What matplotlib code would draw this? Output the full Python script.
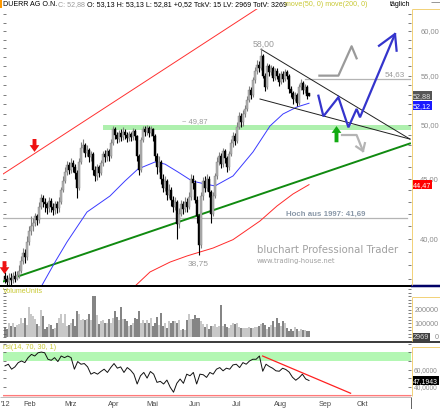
import numpy as np
import matplotlib
matplotlib.use("Agg")
import matplotlib.pyplot as plt
import matplotlib.transforms as mtrans
from matplotlib.ticker import FixedLocator, NullFormatter, NullLocator
from matplotlib.lines import Line2D
from matplotlib.patches import Rectangle

plt.rcParams['font.family'] = ['Liberation Sans', 'DejaVu Sans']

# ---------------- data ----------------
opens = [37.2, 37.0, 36.8, 37.1, 36.9, 37.2, 37.0, 37.3, 37.6, 38.3,
         38.9, 38.6, 39.8, 40.6, 41.0, 41.3, 41.8, 41.5, 42.6, 43.3,
         43.0, 42.8, 42.5, 43.1, 42.6, 42.3, 42.8, 42.5, 43.0, 44.0,
         44.8, 45.6, 46.2, 45.8, 46.4, 46.0, 45.5, 44.2, 46.5, 47.8,
         48.0, 47.3, 47.6, 46.9, 47.2, 45.8, 45.2, 46.0, 45.5, 46.4,
         47.2, 46.9, 47.5, 47.0, 48.2, 49.6, 49.0, 48.6, 49.2, 48.8,
         49.3, 49.0, 48.7, 49.1, 48.8, 49.4, 48.9, 47.0, 45.8, 48.5,
         49.6, 49.3, 49.7, 49.2, 49.6, 48.9, 47.0, 46.0, 46.5, 45.0,
         44.2, 44.8, 43.6, 44.0, 43.2, 42.6, 43.0, 41.2, 42.0, 42.8,
         42.4, 43.0, 42.6, 43.4, 45.0, 44.6, 43.2, 41.8, 39.5, 43.5,
         44.8, 44.2, 45.0, 43.8, 42.0, 43.5, 45.2, 46.5, 47.0, 46.3,
         47.5, 46.8, 46.0, 47.2, 48.2, 48.9, 48.4, 49.8, 50.8, 50.2,
         51.0, 51.5, 52.5, 53.5, 53.0, 54.5, 55.5, 56.2, 55.8, 57.2,
         55.0, 53.8, 56.0, 55.4, 55.8, 54.8, 55.5, 55.0, 54.3, 55.2,
         54.6, 55.4, 55.0, 53.6, 53.2, 52.6, 53.0, 52.1, 53.8, 54.2,
         53.5, 53.8, 53.13]
highs = [37.5, 37.3, 37.4, 37.4, 37.5, 37.6, 37.6, 38.0, 38.7, 39.3,
         39.2, 40.2, 41.0, 41.8, 41.7, 42.1, 42.0, 43.0, 43.7, 43.6,
         43.3, 43.0, 43.4, 43.3, 42.9, 43.1, 43.1, 43.4, 44.3, 45.2,
         46.0, 46.6, 46.5, 46.8, 46.7, 46.3, 45.8, 46.8, 48.3, 48.6,
         48.2, 48.0, 47.8, 47.5, 47.4, 46.1, 46.3, 46.2, 46.7, 47.5,
         47.6, 47.8, 47.7, 48.6, 49.9, 49.8, 49.3, 49.5, 49.6, 49.8,
         49.6, 49.3, 49.4, 49.3, 49.7, 49.6, 49.0, 47.2, 48.8, 49.9,
         49.9, 50.0, 49.9, 49.9, 49.7, 49.1, 47.3, 47.0, 46.7, 45.4,
         45.2, 45.0, 44.5, 44.3, 43.5, 43.4, 43.2, 42.5, 43.2, 43.1,
         43.4, 43.3, 43.8, 45.4, 45.3, 44.9, 43.5, 42.0, 43.8, 45.1,
         45.2, 45.4, 45.2, 44.0, 43.8, 45.5, 46.9, 47.4, 47.3, 47.8,
         47.7, 47.0, 47.5, 48.6, 49.3, 49.2, 50.2, 51.2, 51.1, 51.4,
         51.9, 52.9, 53.9, 53.8, 54.9, 55.9, 56.7, 56.6, 58.0, 57.4,
         55.3, 56.4, 56.3, 56.2, 56.0, 55.8, 55.8, 55.3, 55.5, 55.5,
         55.7, 55.6, 55.2, 53.9, 53.4, 53.3, 53.2, 54.1, 54.6, 54.4,
         54.1, 54.0, 53.13]
lows = [36.7, 36.5, 36.6, 36.6, 36.7, 36.8, 36.9, 37.1, 37.4, 38.1,
        38.2, 38.4, 39.5, 40.3, 40.6, 41.0, 41.1, 41.3, 42.4, 42.6,
        42.2, 42.0, 42.2, 42.2, 41.9, 42.0, 42.1, 42.2, 42.8, 43.8,
        44.6, 45.3, 45.4, 45.5, 45.6, 45.0, 43.3, 44.0, 46.3, 47.4,
        46.9, 47.0, 46.5, 46.6, 45.3, 44.8, 44.9, 45.1, 45.3, 46.1,
        46.5, 46.6, 46.6, 46.8, 48.0, 48.6, 48.2, 48.3, 48.4, 48.5,
        48.6, 48.3, 48.4, 48.4, 48.5, 48.5, 46.6, 45.3, 45.6, 48.3,
        48.9, 49.0, 48.8, 48.9, 48.4, 46.6, 45.4, 45.6, 44.5, 43.8,
        43.9, 43.2, 43.3, 42.7, 42.2, 42.3, 40.0, 40.9, 41.8, 42.0,
        42.2, 42.2, 42.4, 43.2, 44.1, 42.9, 41.3, 38.75, 39.3, 43.2,
        43.8, 43.9, 43.4, 41.3, 41.8, 43.3, 45.0, 46.2, 45.9, 46.0,
        46.4, 45.6, 45.8, 47.0, 47.9, 48.0, 48.2, 49.6, 49.8, 49.9,
        50.7, 51.3, 52.2, 52.6, 52.8, 54.2, 55.2, 55.4, 55.6, 54.7,
        53.4, 53.6, 55.0, 55.1, 54.4, 54.5, 54.6, 53.9, 54.1, 54.3,
        54.4, 54.6, 53.2, 52.8, 52.0, 52.3, 51.8, 51.9, 53.5, 53.1,
        53.2, 52.6, 52.81]
closes = [37.0, 36.8, 37.1, 36.9, 37.2, 37.0, 37.3, 37.6, 38.3, 38.9,
          38.6, 39.8, 40.6, 41.0, 41.3, 41.8, 41.5, 42.6, 43.3, 43.0,
          42.8, 42.5, 43.1, 42.6, 42.3, 42.8, 42.5, 43.0, 44.0, 44.8,
          45.6, 46.2, 45.8, 46.4, 46.0, 45.5, 44.2, 46.5, 47.8, 48.0,
          47.3, 47.6, 46.9, 47.2, 45.8, 45.2, 46.0, 45.5, 46.4, 47.2,
          46.9, 47.5, 47.0, 48.2, 49.6, 49.0, 48.6, 49.2, 48.8, 49.3,
          49.0, 48.7, 49.1, 48.8, 49.4, 48.9, 47.0, 45.8, 48.5, 49.6,
          49.3, 49.7, 49.2, 49.6, 48.9, 47.0, 46.0, 46.5, 45.0, 44.2,
          44.8, 43.6, 44.0, 43.2, 42.6, 43.0, 41.2, 42.0, 42.8, 42.4,
          43.0, 42.6, 43.4, 45.0, 44.6, 43.2, 41.8, 39.5, 43.5, 44.8,
          44.2, 45.0, 43.8, 42.0, 43.5, 45.2, 46.5, 47.0, 46.3, 47.5,
          46.8, 46.0, 47.2, 48.2, 48.9, 48.4, 49.8, 50.8, 50.2, 51.0,
          51.5, 52.5, 53.5, 53.0, 54.5, 55.5, 56.2, 55.8, 57.2, 55.0,
          53.8, 56.0, 55.4, 55.8, 54.8, 55.5, 55.0, 54.3, 55.2, 54.6,
          55.4, 55.0, 53.6, 53.2, 52.6, 53.0, 52.1, 53.8, 54.2, 53.5,
          53.8, 52.9, 52.88]
volume_thousands = [74, 62, 99, 82, 99, 74, 86, 94, 143, 106,
                    143, 89, 217, 168, 156, 131, 94, 77, 198, 156,
                    57, 74, 94, 86, 62, 69, 99, 143, 168, 106,
                    168, 82, 89, 99, 131, 82, 188, 168, 124, 133,
                    124, 131, 168, 124, 304, 304, 163, 94, 114, 124,
                    106, 106, 131, 99, 143, 188, 148, 124, 217, 133,
                    133, 119, 82, 86, 99, 136, 131, 188, 99, 124,
                    106, 128, 99, 143, 82, 99, 148, 89, 173, 82,
                    99, 69, 114, 99, 114, 119, 99, 124, 54, 57,
                    54, 124, 168, 131, 131, 163, 136, 143, 114, 94,
                    74, 94, 62, 82, 79, 94, 74, 82, 237, 82,
                    94, 74, 69, 89, 99, 94, 106, 74, 69, 64,
                    69, 69, 74, 69, 69, 74, 74, 82, 94, 99,
                    89, 62, 74, 89, 119, 74, 143, 99, 82, 114,
                    99, 64, 44, 57, 44, 74, 62, 44, 57, 49,
                    49, 44, 44]
rsi_values = [64.3, 66.2, 60.4, 63.1, 68.1, 70.0, 68.1, 73.9, 77.7, 75.8,
              79.6, 80.4, 79.6, 72.0, 70.8, 73.9, 69.3, 75.8, 73.9, 75.8,
              73.9, 60.4, 69.3, 66.2, 67.0, 63.1, 54.6, 56.6, 54.6, 57.7,
              60.4, 56.6, 62.3, 67.0, 61.6, 63.1, 56.6, 62.3, 59.3, 54.6,
              43.1, 52.7, 56.6, 50.0, 57.7, 54.6, 45.0, 46.2, 43.1, 47.7,
              39.3, 33.5, 43.9, 48.9, 43.9, 54.6, 52.7, 56.6, 43.1, 54.6,
              53.9, 50.8, 56.6, 54.6, 60.4, 62.3, 58.5, 61.6, 60.4, 65.4,
              66.2, 62.3, 68.1, 66.2, 70.0, 72.0, 72.0, 75.8, 58.0, 66.2,
              63.5, 61.5, 58.5, 58.0, 61.5, 60.0, 57.0, 51.0, 47.5, 50.5,
              54.6, 49.0, 47.1943]
ma50_day = [17.5, 25, 31, 41, 52.5, 60, 66.5, 75, 80, 86.5, 93.5, 100, 105, 114, 124, 132.5, 139, 146, 152]
ma50_val = [36.3, 38.24, 39.77, 42.16, 43.5, 44.79, 45.85, 46.48, 46.29, 45.58, 44.79, 44.53, 44.36, 45.23,
            47.4, 49.86, 51.04, 51.74, 52.12]
ma200_day = [63.5, 72.5, 82.5, 91, 97.5, 104, 114, 127.5, 136, 144, 152]
ma200_val = [36.29, 37.51, 38.24, 38.70, 39.0, 39.3, 39.95, 41.43, 42.66, 43.67, 44.47]

month_labels = ["'12", "Feb", "Mrz", "Apr", "Mai", "Jun", "Jul", "Aug", "Sep", "Okt"]
month_days = [-2.3, 9, 29.5, 51.5, 70.5, 92, 113.5, 134.5, 157, 176]

price_ticks = [40, 45, 50, 55, 60]
vol_ticks = [0, 100000, 200000]
rsi_ticks = [40, 60]

# drawn lines / annotations (day index, price)
green_trend_day, green_trend_val = [-1, 202.5], [36.82, 48.19]
red_channel_day, red_channel_val = [-1, 132.5], [45.40, 63.69]
tri_up_day, tri_up_val = [128, 202.5], [57.9, 48.6]
tri_lo_day, tri_lo_val = [127.5, 202.5], [52.55, 48.6]
resistance_band = (49.45, 49.95)
level_5463 = 54.63
level_4169 = 41.69
blue_path_day = [156.7, 159.2, 166.7, 171.7, 175.8, 177.5, 195.0]
blue_path_val = [52.89, 50.81, 52.73, 49.73, 51.54, 50.71, 59.65]
blue_arms_day = [187.0, 195.0, 195.8]
blue_arms_val = [58.30, 59.65, 57.74]
gray_up_day = [157.2, 166.7, 173.3, 175.8]
gray_up_val = [55.0, 55.0, 58.24, 56.89]
gray_dn_day = [168.5, 175.8, 179.0]
gray_dn_val = [48.99, 48.99, 47.48]
gray_dn_arms_day = [179.95, 179.0, 175.65]
gray_dn_arms_val = [48.22, 47.48, 47.90]
rsi_trend_day, rsi_trend_val = [128.8, 172.8], [75.8, 32.3]

# ---------------- figure ----------------
W, H = 440, 410
fig = plt.figure(figsize=(W / 100, H / 100), dpi=100)
fig.patch.set_facecolor('white')


def fx(px):
    return px / W


def fy(py):
    return 1 - py / H


def add_ax(x0, y0, x1, y1):
    a = fig.add_axes([fx(x0), fy(y1), (x1 - x0) / W, (y1 - y0) / H])
    for s in a.spines.values():
        s.set_visible(False)
    a.set_facecolor('white')
    a.xaxis.set_major_locator(NullLocator())
    a.xaxis.set_minor_locator(NullLocator())
    return a


ax = add_ax(3, 10, 411, 286)
axv = add_ax(3, 287, 411, 342)
axr = add_ax(3, 344, 411, 397.5)

XMIN, XMAX = -1, 203
n = len(closes)
days = np.arange(n)
o = np.array(opens)
c = np.array(closes)
hi = np.array(highs)
lo = np.array(lows)
up = c >= o

# ---------------- price panel ----------------
ax.set_yscale('log')
ax.set_xlim(XMIN, XMAX)
ax.set_ylim(36.57, 62.63)
ax.yaxis.set_major_locator(FixedLocator(np.arange(37, 63)))
ax.yaxis.set_minor_locator(NullLocator())
ax.yaxis.set_major_formatter(NullFormatter())
ax.yaxis.set_minor_formatter(NullFormatter())
ax.tick_params(axis='y', which='both', left=True, right=True, direction='in', length=2,
               width=0.6, color='#666666', labelleft=False, labelright=False)

ax.fill_between([49, XMAX], resistance_band[0], resistance_band[1], color='#aef0ae', lw=0, zorder=1)
ax.plot([XMIN, 201], [level_4169] * 2, color='#b4b4b4', lw=0.9, zorder=2)
ax.plot([150, XMAX], [level_5463] * 2, color='#b4b4b4', lw=0.9, zorder=2)

ax.plot(red_channel_day, red_channel_val, color='#ff3030', lw=0.7, zorder=2)
ax.plot(green_trend_day, green_trend_val, color='#108a10', lw=1.4, zorder=3)
ax.plot(ma200_day, ma200_val, color='#ff2a2a', lw=0.7, zorder=3)
ax.plot(ma50_day, ma50_val, color='#3a3aff', lw=0.7, zorder=3)
ax.plot(tri_up_day, tri_up_val, color='#202020', lw=0.7, zorder=3)
ax.plot(tri_lo_day, tri_lo_val, color='#202020', lw=0.7, zorder=3)

wick_col = np.where(up, '#808080', '#000000')
body_col = np.where(up, '#b0b0b0', '#000000')
ax.vlines(days, lo, hi, colors=wick_col, lw=0.8, zorder=4)
b_lo = np.minimum(o, c)
b_hi = np.maximum(o, c)
ax.bar(days, np.maximum(b_hi - b_lo, 0.06), bottom=b_lo, width=0.9, color=body_col,
       edgecolor=wick_col, linewidth=0.3, zorder=5)

# scenario paths
ax.plot(blue_path_day, blue_path_val, color='#3434cc', lw=1.6, zorder=6, solid_joinstyle='miter')
ax.plot(blue_arms_day, blue_arms_val, color='#3434cc', lw=1.6, zorder=6)
ax.plot(gray_up_day, gray_up_val, color='#9a9a9a', lw=1.6, zorder=6)
ax.plot(gray_dn_day, gray_dn_val, color='#b4b4b4', lw=1.6, zorder=6)
ax.plot(gray_dn_arms_day, gray_dn_arms_val, color='#b4b4b4', lw=1.6, zorder=6)


def block_arrow(day, p_from, p_to, color):
    ax.annotate('', xy=(day, p_to), xytext=(day, p_from),
                arrowprops=dict(arrowstyle='simple,head_length=0.7,head_width=1.0,tail_width=0.4',
                                fc=color, ec='none', shrinkA=0, shrinkB=0, mutation_scale=7),
                zorder=7, annotation_clip=False)


block_arrow(14.75, 48.61, 47.40, '#ee1111')
block_arrow(-0.25, 38.31, 37.36, '#ee1111')
block_arrow(165.75, 48.30, 49.85, '#11aa11')

# right axis labels and value boxes (price)
bt_p = mtrans.blended_transform_factory(ax.transAxes, ax.transData)
x_lab = (439 - 3) / 408.0
x_box = (413 - 3) / 408.0
for v in price_ticks:
    ax.text(x_lab, v, f"{v:.2f}".replace('.', ','), transform=bt_p, ha='right', va='center',
            fontsize=5.4, color='#8c8c8c', clip_on=False)


def box(axis, trans, y, s, fc, tc, fs=5.2):
    axis.text(x_box, y, s, transform=trans, ha='left', va='center', fontsize=fs, color=tc,
              clip_on=False, zorder=10,
              bbox=dict(boxstyle='square,pad=0.12', fc=fc, ec='none'))


box(ax, bt_p, closes[-1], f"{closes[-1]:.2f}".replace('.', ','), '#555555', '#e0e0e0')
box(ax, bt_p, ma50_val[-1] * 0.996, f"{ma50_val[-1]:.2f}".replace('.', ','), '#1a1aff', '#ffffff')
box(ax, bt_p, ma200_val[-1], f"{ma200_val[-1]:.2f}".replace('.', ','), '#ff0000', '#ffffff')

# ---------------- volume panel ----------------
vol = np.array(volume_thousands) * 1000
vcol = np.where(up, '#c8c8c8', '#858585')
axv.bar(days, vol, width=0.55, color=vcol, linewidth=0)
axv.set_xlim(XMIN, XMAX)
axv.set_ylim(-30000, 375000)
axv.yaxis.set_major_locator(FixedLocator(np.arange(0, 375001, 25000)))
axv.yaxis.set_major_formatter(NullFormatter())
axv.tick_params(axis='y', left=True, right=True, direction='in', length=2, width=0.6,
                color='#666666', labelleft=False, labelright=False)
bt_v = mtrans.blended_transform_factory(axv.transAxes, axv.transData)
for v in vol_ticks:
    axv.text(x_lab, v, f"{v}", transform=bt_v, ha='right', va='center', fontsize=5.2,
             color='#8c8c8c', clip_on=False)
box(axv, bt_v, 0, "2969", '#404040', '#d8d8d8')

# ---------------- RSI panel ----------------
axr.set_xlim(XMIN, XMAX)
axr.set_ylim(28.5, 91)
axr.axhspan(70, 80.5, color='#b3f7b3', lw=0, zorder=1)
axr.axhspan(20, 30.5, color='#ffd6d6', lw=0, zorder=1)
axr.axhline(30.5, color='#ff7a7a', lw=0.8, zorder=2)
rsi_day = np.linspace(0, n - 1, len(rsi_values))
axr.plot(rsi_day, rsi_values, color='#111111', lw=0.7, zorder=3)
axr.plot(rsi_trend_day, rsi_trend_val, color='#ff2020', lw=0.9, zorder=4)
axr.yaxis.set_major_locator(FixedLocator(np.arange(30, 91, 10)))
axr.yaxis.set_major_formatter(NullFormatter())
axr.tick_params(axis='y', left=True, right=True, direction='in', length=2, width=0.6,
                color='#666666', labelleft=False, labelright=False)
bt_r = mtrans.blended_transform_factory(axr.transAxes, axr.transData)
for v in rsi_ticks:
    axr.text((437.5 - 3) / 408.0, v, f"{v:.4f}".replace('.', ','), transform=bt_r, ha='right',
             va='center', fontsize=4.8, color='#8c8c8c', clip_on=False, zorder=5)
box(axr, bt_r, rsi_values[-1], f"{rsi_values[-1]:.4f}".replace('.', ','), '#000000', '#ffffff', fs=4.9)

# month labels
bt_m = mtrans.blended_transform_factory(axr.transData, axr.transAxes)
for d, s in zip(month_days, month_labels):
    axr.text(d, -0.125, s, transform=bt_m, ha='left', va='center', fontsize=5.3,
             color='#4a4a4a', clip_on=False)

# ---------------- frame lines ----------------
def fline(x0, y0, x1, y1, color, lw_px):
    fig.add_artist(Line2D([fx(x0), fx(x1)], [fy(y0), fy(y1)], transform=fig.transFigure,
                          color=color, lw=lw_px * 0.72, solid_capstyle='butt', zorder=0.5))


fline(0, 286.5, 411, 286.5, '#000000', 2)
fline(411, 286.5, 440, 286.5, '#000066', 2.5)
fline(0, 342.5, 440, 342.5, '#000000', 1.5)
fline(0, 398, 411, 398, '#b0b0b0', 0.8)
yel = '#f2d27a'
fline(411.5, 10, 411.5, 285.5, yel, 1)
fline(411.5, 10, 440, 10, yel, 1)
fline(411.5, 297.5, 411.5, 341.5, yel, 1)
fline(411.5, 297.5, 440, 297.5, yel, 1)
fline(411.5, 348, 411.5, 397, yel, 1)
fline(411.5, 348, 440, 348, yel, 1)
fline(411, 398, 411, 410, '#666666', 1)
fline(431, 3, 440, 3, '#999999', 1)
fig.add_artist(Rectangle((fx(0), fy(9)), fx(2), 9 / H, transform=fig.transFigure,
                         fc='#ff9900', ec='none'))

# ---------------- texts ----------------
renderer = fig.canvas.get_renderer()


def fit_text(s, x0, x1, y, color, family=None, weight='normal'):
    kw = dict(color=color, va='center', ha='left', weight=weight)
    if family:
        kw['family'] = family
    t = fig.text(fx(x0), fy(y), s, fontsize=10, **kw)
    w = t.get_window_extent(renderer).width
    t.set_fontsize(10 * (x1 - x0) / w)
    return t


# header
pieces = [("DUERR AG O.N.", '#000000'), ("C: 52,88", '#9a9a9a'),
          ("O: 53,13 H: 53,13 L: 52,81 +0,52 TckV: 15 LV: 2969 TotV: 3269", '#000000'),
          ("move(50, 0) move(200, 0)", '#c8c832')]
texts = []
widths = []
for s, col in pieces:
    t = fig.text(0, fy(5), s, fontsize=10, color=col, va='center', ha='left')
    texts.append(t)
    widths.append(t.get_window_extent(renderer).width)
gap10 = 3.2
total10 = sum(widths) + gap10 * (len(pieces) - 1)
scale = (367 - 3) / total10
xpos = 3
for t, w in zip(texts, widths):
    t.set_fontsize(10 * scale)
    t.set_x(fx(xpos))
    xpos += (w + gap10) * scale
fig.text(fx(390), fy(5), "täglich", fontsize=10 * scale, color='#000000', va='center', ha='left')

fit_text("58,00", 253, 275, 44, '#9a9a9a')
fit_text("~ 49,87", 182, 207, 122, '#9a9a9a')
fit_text("38,75", 188, 209, 264, '#9a9a9a')
fit_text("54,63", 385, 405, 75, '#9a9a9a')
fit_text("Hoch aus 1997: 41,69", 286, 366, 214, '#8a98a8', weight='bold')
fit_text("bluchart Professional Trader", 257, 398, 250, '#a0a0a0', family='DejaVu Sans')
fit_text("www.trading-house.net", 257, 336, 261, '#a0a0a0', family='DejaVu Sans')
fit_text("VolumeUnits", 3, 43, 292, '#c8c832')
fit_text("rsi(14, 70, 30, 1)", 3, 56, 348, '#c8c832')

fig.savefig("out.png", dpi=100, facecolor='white')
